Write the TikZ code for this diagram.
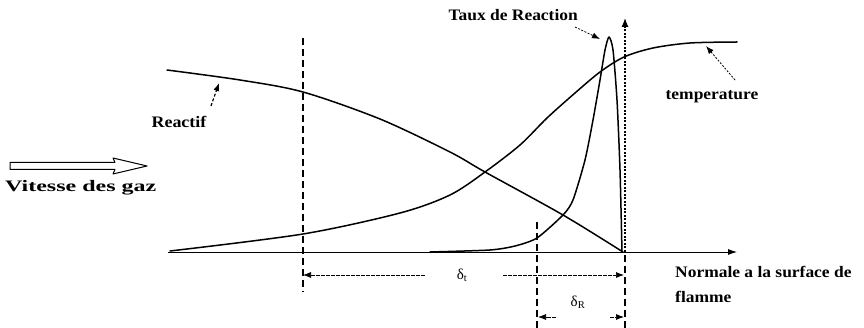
\documentclass[tikz,border=0pt]{standalone}
\usepackage{fontspec}
\setmainfont{Liberation Serif}
\usetikzlibrary{arrows.meta}
\begin{document}
\begin{tikzpicture}[x=1pt,y=-1pt,
  curve/.style={line width=1.5pt, line join=round, line cap=round},
  vdash/.style={line width=1.5pt, dash pattern=on 7pt off 4pt},
  lbl/.style={font=\fontsize{16}{18}\selectfont\bfseries, inner sep=0pt},
  dlbl/.style={font=\fontsize{15}{17}\selectfont, inner sep=0pt},
  ptr/.style={line width=0.8pt, dash pattern=on 2pt off 1.5pt, -{Latex[length=8pt,width=6pt]}},
  dimarrow/.style={line width=0.7pt, dash pattern=on 4pt off 1pt, -{Latex[length=8pt,width=6pt]}},
]
\useasboundingbox (0,0) rectangle (864,328);

% axis
\coordinate (ax0) at (168,252);
\coordinate (ax1) at (737,252);
\draw[line width=0.8pt, -{Latex[length=9pt,width=6pt]}] (ax0) -- (ax1);

% vertical dashed lines
\coordinate (L0) at (303,38);  \coordinate (L1) at (303,292);
\coordinate (M0) at (537,222); \coordinate (M1) at (537,328);
\coordinate (R0) at (625,328); \coordinate (Rm) at (625,252); \coordinate (R1) at (625,18);
\draw[vdash] (L0) -- (L1);
\draw[vdash] (M0) -- (M1);
\draw[vdash] (R0) -- (Rm);
\draw[line width=1.2pt, dash pattern=on 2pt off 1.5pt, -{Latex[length=9pt,width=7pt]}] (Rm) -- (R1);

% Reactif curve
\draw[curve] plot[smooth, tension=0.5] coordinates {(167,70) (240,80) (303,92) (380,119) (450,152) (485,172) (563,215) (623,252)};

% temperature curve
\draw[curve] plot[smooth, tension=0.5] coordinates {(170,251) (303,234) (400,213) (450,195) (485,172) (520,145) (547,118) (575,93) (600,72) (624,57) (653,48) (690,43) (737,42)};

% reaction rate curve
\draw[curve] plot[smooth, tension=0.4] coordinates {(430,252) (490,250) (515,246) (537,238) (563,215) (573,200) (585,160) (593,120) (600,80) (605,50) (609,37) (613,50) (617,100) (620,170) (622,252)};

% hollow arrow
\draw[line width=1pt, line join=round] (10,162.5) -- (115,162.5) -- (113,158) -- (147,166) -- (113,174) -- (115,169.5) -- (10,169.5) -- cycle;

% labels
\node[lbl, anchor=east] (taux) at (578,15) {\scalebox{1.09}[1]{Taux de Reaction}};
\node[lbl] (temp) at (712,97) {\scalebox{1.09}[1]{temperature}};
\node[lbl] (reac) at (179,122) {\scalebox{1.12}[1]{Reactif}};
\node[lbl, anchor=west] (vit) at (5,188) {\scalebox{1.5}[1]{Vitesse des gaz}};
\node[lbl, anchor=west] (norm) at (675,272) {\scalebox{1.09}[1]{Normale a la surface de}};
\node[lbl, anchor=west] (flam) at (675,297) {\scalebox{1.09}[1]{flamme}};

% pointer arrows
\coordinate (tauxA) at (575,27); \coordinate (tauxB) at (600,39);
\draw[ptr] (tauxA) -- (tauxB);
\coordinate (tempA) at (735,80); \coordinate (tempB) at (706,46);
\draw[ptr] (tempA) -- (tempB);
\coordinate (reacA) at (211,106); \coordinate (reacB) at (219,83);
\draw[line width=1.2pt, dash pattern=on 3pt off 2pt, -{Latex[length=8pt,width=6pt]}] (reacA) -- (reacB);

% dimension delta_t
\node[dlbl] (dt) at (462,275) {δ\textsubscript{t}};
\coordinate (dtL) at (303,275); \coordinate (dtR) at (624,275);
\coordinate (dtl) at (425,275); \coordinate (dtr) at (503,275);
\draw[dimarrow] (dtl) -- (dtL);
\draw[dimarrow] (dtr) -- (dtR);

% dimension delta_R
\node[dlbl] (dr) at (578,302) {δ\textsubscript{R}};
\coordinate (drL) at (538,317); \coordinate (drR) at (624,317);
\coordinate (drl) at (556,317); \coordinate (drr) at (610,317);
\draw[dimarrow] (drl) -- (drL);
\draw[dimarrow] (drr) -- (drR);
\end{tikzpicture}
\end{document}
